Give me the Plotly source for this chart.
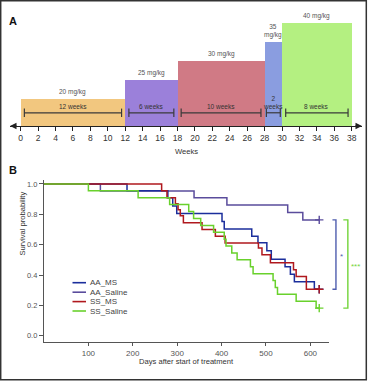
import plotly.graph_objects as go

# ---------------- Panel A data ----------------
doses = [20, 25, 30, 35, 40]
durations = [12, 6, 10, 2, 8]
dose_labels = ["20 mg/kg", "25 mg/kg", "30 mg/kg", "35<br>mg/kg", "40 mg/kg"]
duration_labels = ["12 weeks", "6 weeks", "10 weeks", "2<br>weeks", "8 weeks"]
week_ticks = list(range(0, 39, 2))
bar_colors = ["#F2C77F", "#9B80DA", "#D07A85", "#8A9DE0", "#B4F081"]

# ---------------- Panel B data ----------------
series_names = ["AA_MS", "AA_Saline", "SS_MS", "SS_Saline"]
aa_ms_days = [187, 279, 290, 299, 401, 406, 468, 482, 502, 512, 543, 555, 564, 609]
aa_ms_surv = [0.955, 0.909, 0.855, 0.805, 0.752, 0.703, 0.655, 0.613, 0.56, 0.504, 0.455, 0.405, 0.356, 0.306]
aa_saline_days = [127, 338, 412, 549, 583]
aa_saline_surv = [0.954, 0.909, 0.862, 0.812, 0.763]
ss_ms_days = [265, 277, 296, 302, 307, 314, 356, 386, 408, 483, 491, 510, 562, 568, 591]
ss_ms_surv = [0.955, 0.909, 0.87, 0.83, 0.79, 0.745, 0.70, 0.655, 0.611, 0.578, 0.533, 0.48, 0.435, 0.39, 0.306]
ss_saline_days = [100, 212, 283, 326, 337, 353, 382, 406, 410, 423, 435, 465, 471, 516, 521, 526, 568, 613]
ss_saline_surv = [0.955, 0.909, 0.864, 0.818, 0.773, 0.727, 0.682, 0.636, 0.591, 0.545, 0.5, 0.455,
                  0.409, 0.364, 0.318, 0.273, 0.227, 0.182]
followup_end = 620
x_ticks_b = [100, 200, 300, 400, 500, 600]
y_ticks_b = [0.0, 0.2, 0.4, 0.6, 0.8, 1.0]
series_colors = {"AA_MS": "#1B2E9C", "AA_Saline": "#5A4C9C", "SS_MS": "#B0181E", "SS_Saline": "#69D12C"}

W, H = 370, 382
SANS = "Liberation Sans, Arial, sans-serif"


def px_x(p):
    return p / W


def px_y(p):
    return 1 - p / H


fig = go.Figure()

# ---------- Panel A ----------
starts = []
acc = 0
for d in durations:
    starts.append(acc)
    acc += d
centers = [s + d / 2 for s, d in zip(starts, durations)]

fig.add_trace(go.Bar(x=centers, y=doses, width=durations, marker_color=bar_colors,
                     marker_line_width=0, xaxis="x", yaxis="y", showlegend=False, hoverinfo="skip"))

Y_LINE = 16.45
for s, d in zip(starts, durations):
    pad = min(0.42, 0.1 * d)
    fig.add_trace(go.Scatter(x=[s + pad, s + d - pad], y=[Y_LINE, Y_LINE], mode="lines+markers",
                             line=dict(color="#3a3a3a", width=1.2),
                             marker=dict(symbol="line-ns", size=6, line=dict(width=1.2, color="#3a3a3a")),
                             xaxis="x", yaxis="y", showlegend=False, hoverinfo="skip"))

annotations = []
for c, dose, lab in zip(centers, doses, dose_labels):
    annotations.append(dict(x=c, y=dose, xref="x", yref="y", text=lab, showarrow=False,
                            yanchor="bottom", yshift=1, font=dict(family=SANS, size=6.5, color="#555")))
for c, lab in zip(centers, duration_labels):
    annotations.append(dict(x=c, y=Y_LINE, xref="x", yref="y", text=lab, showarrow=False,
                            yanchor="bottom", yshift=1, font=dict(family=SANS, size=6.5, color="#333")))

# axis arrows
for tip, off in [(px_x(362), -8), (px_x(10), 8)]:
    annotations.append(dict(x=tip, y=px_y(126), xref="paper", yref="paper", text="", showarrow=True,
                            ax=off, ay=0, arrowhead=2, arrowsize=1, arrowwidth=1.3, arrowcolor="#222",
                            standoff=0))

# panel letters
annotations.append(dict(x=px_x(7), y=px_y(13), xref="paper", yref="paper", text="<b>A</b>",
                        showarrow=False, xanchor="left", font=dict(family=SANS, size=11, color="#111")))
annotations.append(dict(x=px_x(7), y=px_y(170), xref="paper", yref="paper", text="<b>B</b>",
                        showarrow=False, xanchor="left", font=dict(family=SANS, size=11, color="#111")))

# axis titles
annotations.append(dict(x=px_x(186), y=px_y(151.5), xref="paper", yref="paper", text="Weeks",
                        showarrow=False, font=dict(family=SANS, size=7.6, color="#333")))
annotations.append(dict(x=px_x(186.5), y=px_y(367.5), xref="paper", yref="paper",
                        text="Days after start of treatment",
                        showarrow=False, font=dict(family=SANS, size=7.6, color="#333")))
annotations.append(dict(x=px_x(15), y=px_y(258), xref="paper", yref="paper",
                        text="Survival probability", textangle=-90,
                        showarrow=False, font=dict(family=SANS, size=7.6, color="#333")))

# ---------- Panel B ----------
data_b = {
    "AA_MS": (aa_ms_days, aa_ms_surv),
    "AA_Saline": (aa_saline_days, aa_saline_surv),
    "SS_MS": (ss_ms_days, ss_ms_surv),
    "SS_Saline": (ss_saline_days, ss_saline_surv),
}
draw_order = ["AA_Saline", "AA_MS", "SS_MS", "SS_Saline"]
for name in draw_order:
    days, surv = data_b[name]
    xs = [0] + days + [followup_end]
    ys = [1.0] + surv + [surv[-1]]
    col = series_colors[name]
    fig.add_trace(go.Scatter(x=xs, y=ys, mode="lines", line=dict(color=col, width=1.5, shape="hv"),
                             name=name, xaxis="x2", yaxis="y2", showlegend=False))
    fig.add_trace(go.Scatter(x=[followup_end], y=[surv[-1]], mode="markers",
                             marker=dict(symbol="cross-thin", size=6, line=dict(width=1.4, color=col)),
                             xaxis="x2", yaxis="y2", showlegend=False, hoverinfo="skip"))

# custom compact legend
shapes = []
leg_rows = [282.7, 292.2, 301.6, 311.0]
for name, py in zip(series_names, leg_rows):
    shapes.append(dict(type="line", xref="paper", yref="paper", x0=px_x(72.5), x1=px_x(86),
                       y0=px_y(py), y1=px_y(py), line=dict(color=series_colors[name], width=1.6)))
    annotations.append(dict(x=px_x(87.5), y=px_y(py), xref="paper", yref="paper", text=name,
                            showarrow=False, xanchor="left", yanchor="middle",
                            font=dict(family=SANS, size=8, color="#444")))

# significance brackets (x3 is a hidden helper axis to the right of panel B)
top = aa_saline_surv[-1]
brackets = [(aa_ms_surv[-1], 0.17, 0.07, "*", 0.33, "#4F5DAE"),
            (ss_saline_surv[-1], 0.51, 0.38, "***", 0.73, "#72D43A")]
for bottom, xv, xc, star, xs_, col in brackets:
    fig.add_trace(go.Scatter(x=[xc, xv, xv, xc], y=[top, top, bottom, bottom], mode="lines",
                             line=dict(color=col, width=1.4), xaxis="x3", yaxis="y2",
                             showlegend=False, hoverinfo="skip"))
    annotations.append(dict(x=xs_, y=(top + bottom) / 2, xref="x3", yref="y2", text=star,
                            showarrow=False, yshift=-2, font=dict(family=SANS, size=8, color=col)))

# figure border
shapes.append(dict(type="rect", xref="paper", yref="paper", x0=px_x(0.7), x1=px_x(366.3),
                   y0=px_y(379.8), y1=px_y(0.7), line=dict(color="#333", width=1.5)))

fig.update_layout(
    width=W, height=H, autosize=False,
    margin=dict(l=0, r=0, t=0, b=0, autoexpand=False),
    paper_bgcolor="white", plot_bgcolor="rgba(0,0,0,0)",
    showlegend=False, bargap=0,
    annotations=annotations, shapes=shapes,
    xaxis=dict(domain=[px_x(10), px_x(362)], range=[-1.228, 39.18], anchor="y", automargin=False,
               tickvals=week_ticks, ticks="outside", ticklen=4, tickwidth=1, tickcolor="#222",
               showline=True, linecolor="#222", linewidth=1.3, showgrid=False, zeroline=False,
               tickfont=dict(family=SANS, size=8.5, color="#333")),
    yaxis=dict(domain=[px_y(126), px_y(18)], range=[12.97, 41.4], anchor="x", visible=False,
               automargin=False),
    xaxis2=dict(domain=[px_x(44), px_x(329)], range=[0, 642], anchor="y2", automargin=False,
                tickvals=x_ticks_b, ticks="outside", ticklen=3, tickwidth=1, tickcolor="#555",
                showline=True, linecolor="#555", linewidth=1.3, showgrid=False, zeroline=False,
                tickfont=dict(family=SANS, size=8, color="#555")),
    yaxis2=dict(domain=[px_y(342), px_y(180)], range=[-0.0415, 1.026], anchor="x2", automargin=False,
                tickvals=y_ticks_b, tickformat=".1f", ticks="outside", ticklen=4, tickwidth=1,
                tickcolor="#555", showline=True, linecolor="#555", linewidth=1.3, showgrid=False,
                zeroline=False, tickfont=dict(family=SANS, size=7.5, color="#555")),
    xaxis3=dict(domain=[px_x(330), px_x(365)], range=[0, 1], anchor="y2", visible=False,
                automargin=False),
)

fig.write_html("out.html", config={"displayModeBar": False},
               post_script="document.body.style.margin='0';document.body.style.padding='0';"
                           "document.documentElement.style.overflow='hidden';")
